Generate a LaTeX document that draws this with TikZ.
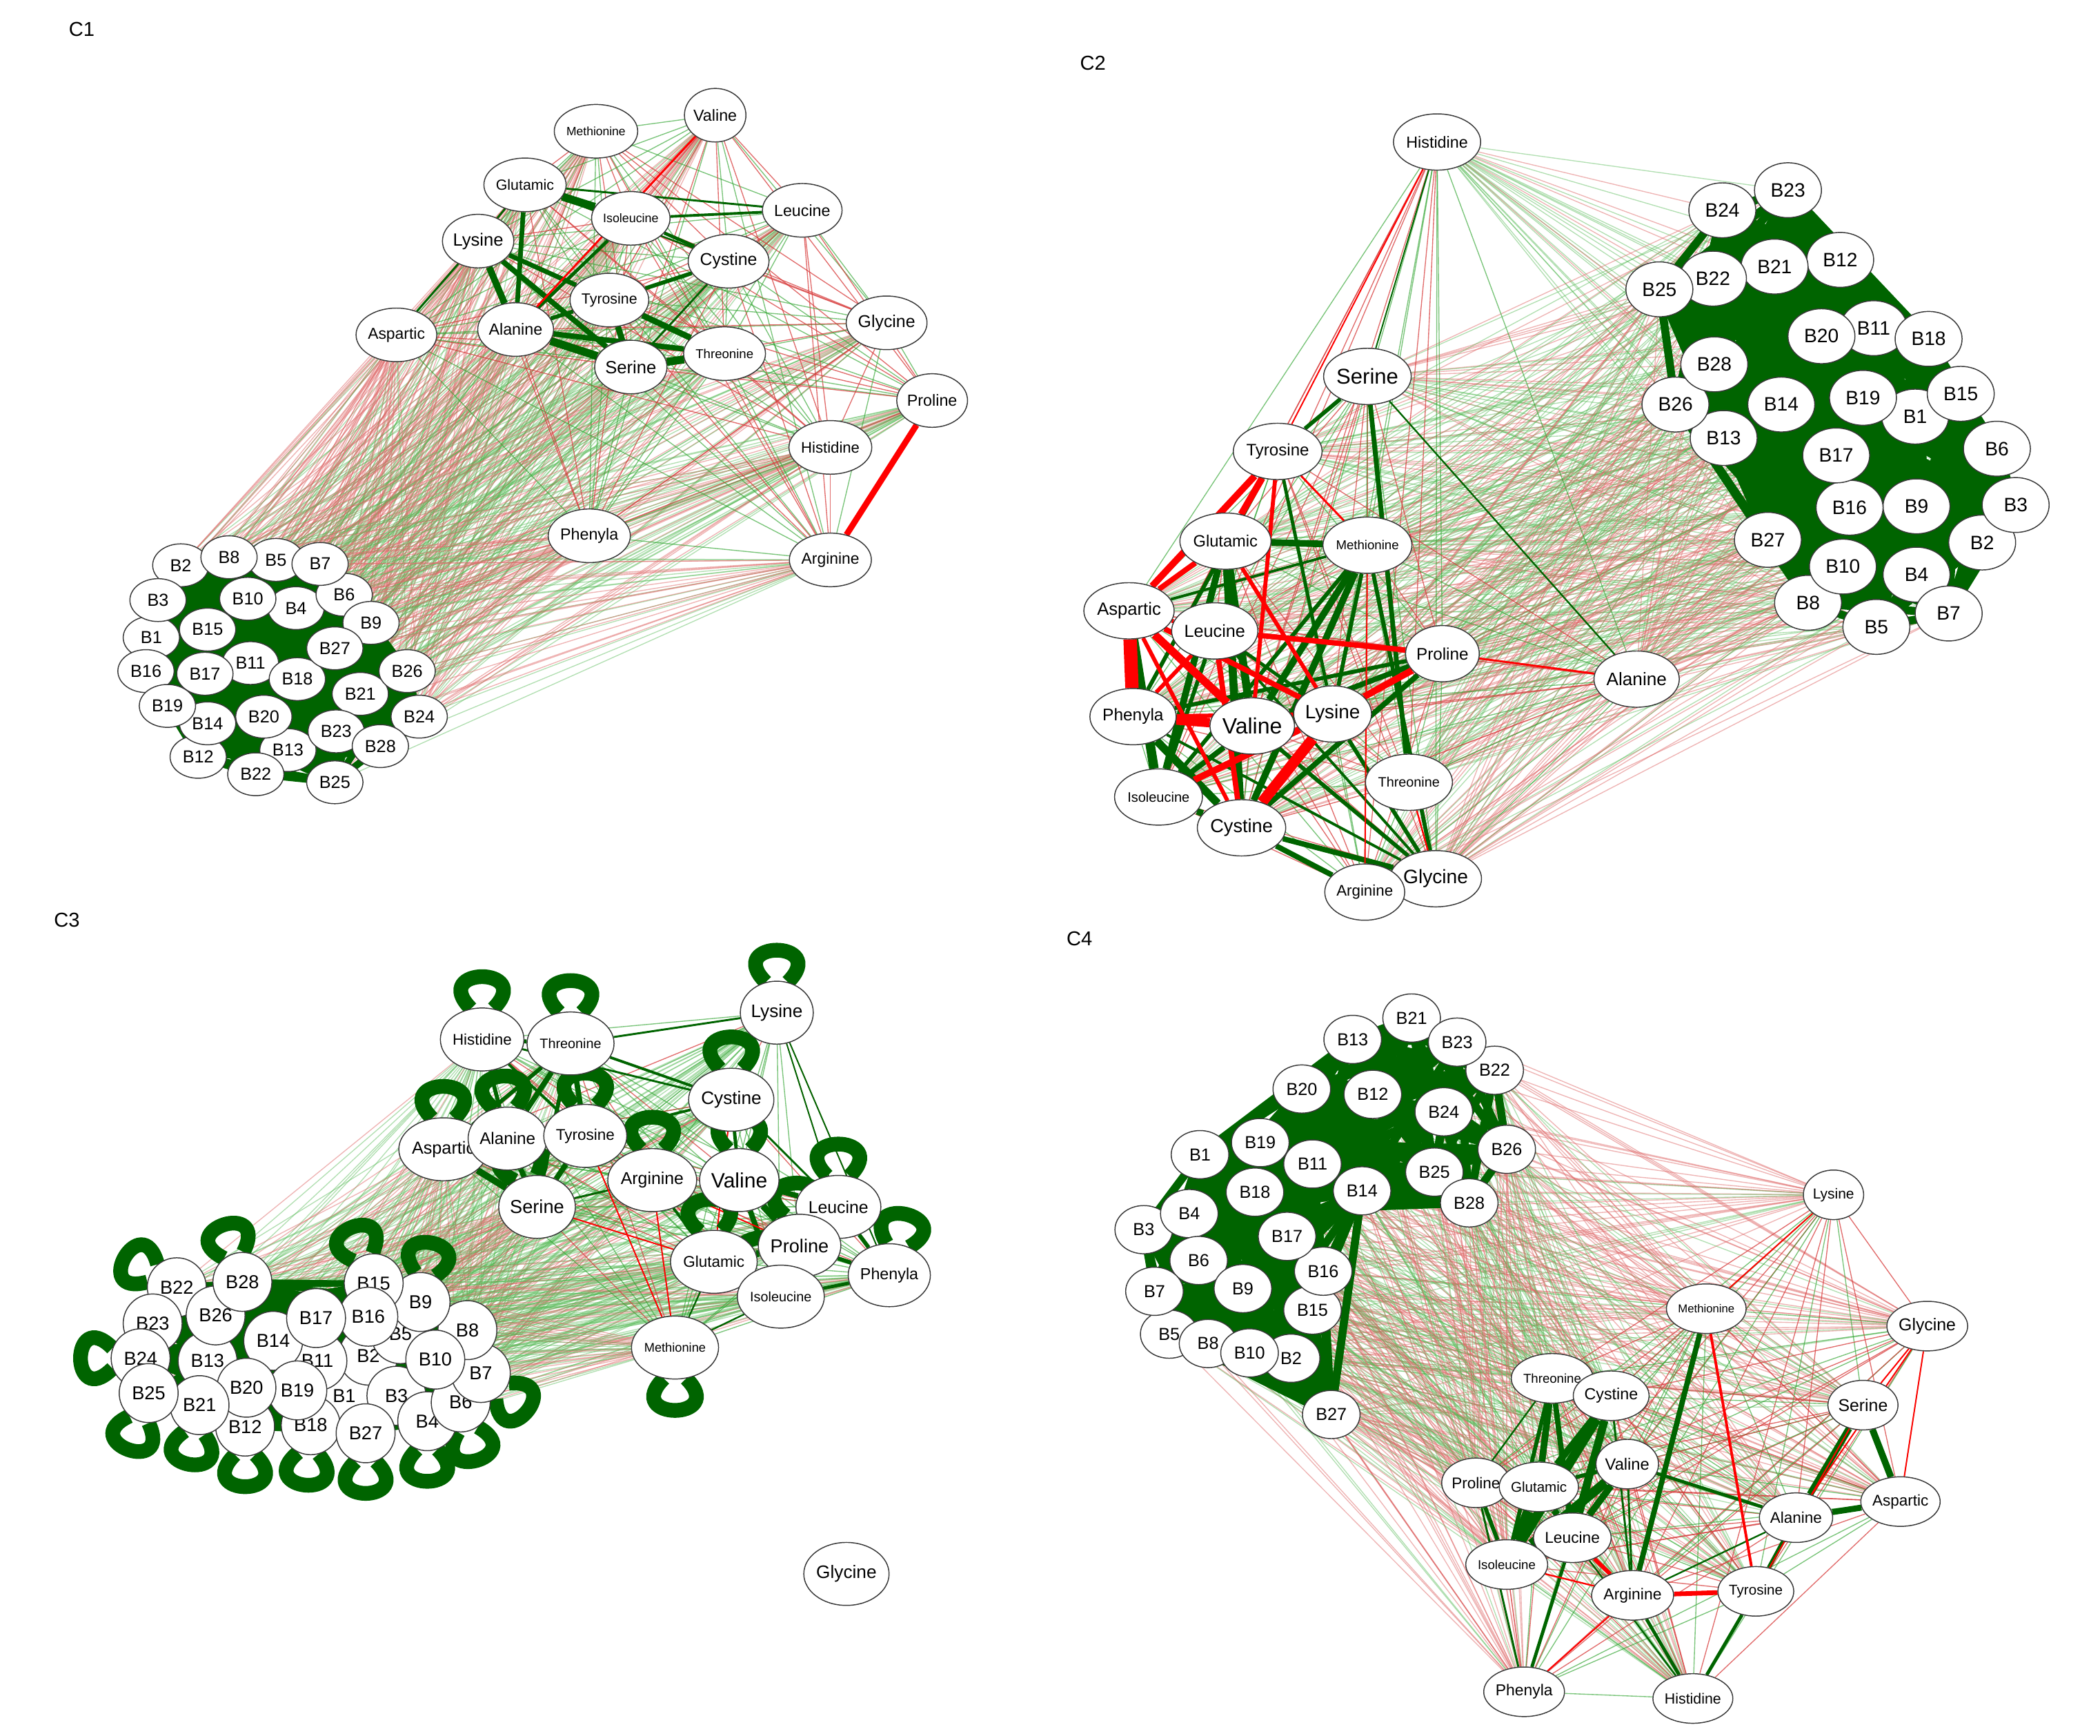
\documentclass[tikz,border=0pt]{standalone}
\usepackage{fontspec}
\setmainfont{Liberation Sans}
\usetikzlibrary{shapes.geometric}
\pgfdeclarelayer{fans}
\pgfdeclarelayer{mid}
\pgfsetlayers{fans,mid,main}
\definecolor{dgreen}{RGB}{0,100,0}
\definecolor{fanred}{RGB}{222,105,105}
\definecolor{fangreen}{RGB}{85,185,85}
\definecolor{brred}{RGB}{255,0,0}
\definecolor{thinred}{RGB}{215,60,60}
\definecolor{thingreen}{RGB}{50,165,50}
\tikzset{
  nd/.style={ellipse, draw=black!78, fill=white, line width=0.75pt, inner sep=0pt},
  bnA/.style={nd, minimum width=42pt, minimum height=32pt, font=\fontsize{13}{13}\selectfont},
  anA/.style={nd, minimum width=44pt, minimum height=40pt},
  bnB/.style={nd, minimum width=50pt, minimum height=41pt, font=\fontsize{14.5}{14.5}\selectfont},
  anB/.style={nd, minimum width=49pt, minimum height=42pt},
  bnC/.style={nd, minimum width=44pt, minimum height=44pt, font=\fontsize{14}{14}\selectfont},
  anC/.style={nd, minimum width=47pt, minimum height=47pt},
  bnD/.style={nd, minimum width=43pt, minimum height=36pt, font=\fontsize{13}{13}\selectfont},
  anD/.style={nd, minimum width=45pt, minimum height=37pt},
  redfan/.style={fanred, line width=0.7pt, opacity=0.5},
  greenfan/.style={fangreen, line width=0.7pt, opacity=0.45},
  redthin/.style={thinred, line width=0.7pt, opacity=0.75},
  greenthin/.style={thingreen, line width=0.7pt, opacity=0.65},
  gk/.style={dgreen, line width=#1},
  rk/.style={brred, line width=#1},
  sloop/.style={dgreen, line width=#1},
  paneltitle/.style={font=\fontsize{15}{15}\selectfont, inner sep=0pt},
}
\newcommand{\fanset}[4]{%
  \foreach \bq in {1,...,28}{%
    \pgfmathtruncatemacro{\hq}{mod(\bq*7+#4*3,10)}%
    \ifnum\hq<#3\relax\draw[redfan] (#1#2) -- (#1B\bq);\else\draw[greenfan] (#1#2) -- (#1B\bq);\fi}}
\newcommand{\meshset}[3]{%
  \foreach \ma [count=\mi] in {#2}{%
    \foreach \mc [count=\mj] in {#2}{%
      \ifnum\mj>\mi\relax
        \pgfmathtruncatemacro{\hq}{mod(\mi*3+\mj*7,10)}%
        \ifnum\hq<#3\relax\draw[redthin] (#1\ma) -- (#1\mc);\else\draw[greenthin] (#1\ma) -- (#1\mc);\fi
      \fi}}}
\newcommand{\cliqueset}[3]{%
  \foreach \ci [count=\ki] in {#3}{%
    \foreach \cj [count=\kj] in {#3}{%
      \ifnum\kj>\ki\relax\draw[gk=#2] (#1B\ci.center) -- (#1B\cj.center);\fi}}}
\newcommand{\selfloop}[3]{%
  \pgfmathtruncatemacro{\la}{#2+20}\pgfmathtruncatemacro{\lb}{#2-20}%
  \pgfmathtruncatemacro{\lc}{#2+45}\pgfmathtruncatemacro{\ld}{#2-45}%
  \draw[sloop=#3] (#1.\la) .. controls +(\lc:45pt) and +(\ld:45pt) .. (#1.\lb);}
\begin{document}
\begin{tikzpicture}[x=1pt,y=-1pt]
\useasboundingbox (0,0) rectangle (1568,1296);
% ---------- titles
\node[paneltitle] (t1) at (61,22) {C1};
\node[paneltitle] (t2) at (816,47) {C2};
\node[paneltitle] (t3) at (50,687) {C3};
\node[paneltitle] (t4) at (806,701) {C4};
% ---------- C1 nodes
\foreach \n/\x/\y in {1/113/476, 2/135/422, 3/118/448, 4/221/454, 5/206/418, 6/257/444, 7/239/421, 8/171/416, 9/277/465, 10/185/447, 11/187/495, 12/148/565, 13/215/560, 14/155/540, 15/155/470, 16/109/501, 17/153/503, 18/222/507, 19/125/527, 20/197/535, 21/269/518, 22/191/578, 23/251/546, 24/313/535, 25/250/584, 26/304/501, 27/250/484, 28/284/557}
  \node[bnA] (c1B\n) at (\x,\y) {B\n};
\foreach \n/\x/\y/\f in {Methionine/445/98/9, Valine/534/86/12, Glutamic/392/138/11, Isoleucine/471/163/9.2, Leucine/599/157/12, Lysine/357/180/13.2, Cystine/544/195/12.8, Tyrosine/455/224/11, Aspartic/296/250/11.8, Alanine/385/246/12, Serine/471/274/13.2, Threonine/541/264/9.6, Glycine/662/241/12.8, Proline/696/299/12, Histidine/620/334/11.4, Phenyla/440/400/12, Arginine/620/418/11.8}
  \node[anA, font=\fontsize{\f}{\f}\selectfont] (c1\n) at (\x,\y) {\n};
% ---------- C2 nodes
\foreach \n/\x/\y in {1/1430/311, 2/1480/405, 3/1505/377, 4/1431/429, 5/1401/468, 6/1491/335, 7/1455/458, 8/1350/450, 9/1431/378, 10/1376/423, 11/1399/245, 12/1374/194, 13/1287/327, 14/1330/302, 15/1464/294, 16/1381/379, 17/1371/340, 18/1440/253, 19/1391/297, 20/1360/251, 21/1325/199, 22/1279/208, 23/1335/142, 24/1286/157, 25/1239/216, 26/1251/302, 27/1320/403, 28/1280/272}
  \node[bnB] (c2B\n) at (\x,\y) {B\n};
\foreach \n/\x/\y/\f in {Histidine/1073/106/12, Serine/1021/281/16, Tyrosine/954/337/12.4, Glutamic/915/404/12.2, Methionine/1021/407/9.6, Aspartic/843/456/13.2, Leucine/907/471/13, Proline/1077/488/12.5, Alanine/1222/507/13.5, Phenyla/846/535/12.6, Valine/935/542/16.5, Lysine/995/533/14.4, Threonine/1052/584/10.2, Isoleucine/865/595/10.3, Cystine/927/618/14, Glycine/1072/656/14.5, Arginine/1019/666/11.5}
  \node[anB, font=\fontsize{\f}{\f}\selectfont] (c2\n) at (\x,\y) {\n};
% ---------- C3 nodes
\foreach \n/\x/\y in {1/257/1042, 2/275/1012, 3/296/1042, 4/319/1061, 5/299/996, 6/344/1047, 7/359/1025, 8/349/993, 9/314/972, 10/325/1015, 11/237/1016, 12/183/1065, 13/155/1016, 14/204/1001, 15/279/958, 16/275/983, 17/236/984, 18/232/1064, 19/222/1038, 20/184/1036, 21/149/1049, 22/132/961, 23/114/988, 24/105/1014, 25/111/1040, 26/161/982, 27/273/1070, 28/181/957}
  \node[bnC] (c3B\n) at (\x,\y) {B\n};
\foreach \n/\x/\y/\f in {Lysine/580/756/13.5, Histidine/360/776/11.5, Threonine/426/779/10.2, Cystine/546/821/13.5, Aspartic/331/858/13, Alanine/379/850/12.5, Tyrosine/437/848/11.6, Arginine/487/881/12.8, Valine/552/881/15.5, Serine/401/901/14, Leucine/626/901/12.8, Proline/597/930/14, Glutamic/533/942/11.6, Phenyla/664/952/12, Isoleucine/583/968/10.2, Methionine/504/1006/9.4, Glycine/632/1175/13.5}
  \node[anC, font=\fontsize{\f}{\f}\selectfont] (c3\n) at (\x,\y) {\n};
% ---------- C4 nodes
\foreach \n/\x/\y in {1/896/862, 2/964/1014, 3/854/918, 4/888/906, 5/873/996, 6/895/941, 7/862/964, 8/902/1003, 9/928/962, 10/933/1010, 11/980/869, 12/1025/817, 13/1010/776, 14/1017/889, 15/980/978, 16/988/949, 17/961/923, 18/937/890, 19/941/853, 20/972/813, 21/1054/760, 22/1116/799, 23/1088/778, 24/1078/830, 25/1071/875, 26/1125/858, 27/994/1056, 28/1097/898}
  \node[bnD] (c4B\n) at (\x,\y) {B\n};
\foreach \n/\x/\y/\f in {Lysine/1369/892/10.8, Methionine/1274/977/8.6, Glycine/1439/990/12.8, Threonine/1159/1029/9.6, Cystine/1203/1042/12, Serine/1391/1049/12.8, Valine/1215/1093/12.2, Proline/1102/1107/11.6, Glutamic/1149/1110/10.6, Alanine/1341/1133/11.6, Aspartic/1419/1121/11.6, Leucine/1174/1148/11.7, Isoleucine/1125/1168/9.6, Arginine/1219/1191/11.8, Tyrosine/1311/1188/10.6, Phenyla/1138/1263/11.8, Histidine/1264/1268/11}
  \node[anD, font=\fontsize{\f}{\f}\selectfont] (c4\n) at (\x,\y) {\n};
% ================= light fans and meshes
\begin{pgfonlayer}{fans}
\foreach \a/\r [count=\s] in {Methionine/7, Valine/7, Glutamic/6, Isoleucine/4, Leucine/3, Lysine/8, Cystine/3, Tyrosine/4, Aspartic/9, Alanine/6, Serine/3, Threonine/3, Glycine/5, Proline/3, Histidine/5, Phenyla/8, Arginine/6}
  {\fanset{c1}{\a}{\r}{\s}}
\foreach \a/\r [count=\s] in {Histidine/2, Serine/5, Tyrosine/4, Glutamic/3, Methionine/3, Aspartic/4, Leucine/5, Proline/3, Alanine/9, Phenyla/5, Valine/4, Lysine/4, Threonine/4, Isoleucine/5, Cystine/5, Glycine/8, Arginine/6}
  {\fanset{c2}{\a}{\r}{\s}}
\foreach \a/\r [count=\s] in {Lysine/0, Histidine/1, Threonine/2, Cystine/2, Alanine/4, Tyrosine/4, Aspartic/7, Arginine/4, Valine/3, Serine/8, Leucine/2, Proline/2, Glutamic/3, Phenyla/2, Isoleucine/2, Methionine/6}
  {\fanset{c3}{\a}{\r}{\s}}
\foreach \a/\r [count=\s] in {Lysine/8, Methionine/8, Glycine/8, Threonine/2, Cystine/2, Serine/6, Valine/2, Proline/8, Glutamic/3, Alanine/5, Aspartic/7, Leucine/4, Isoleucine/8, Arginine/5, Tyrosine/4, Phenyla/8, Histidine/4}
  {\fanset{c4}{\a}{\r}{\s}}
\meshset{c1}{Methionine, Valine, Glutamic, Isoleucine, Leucine, Lysine, Cystine, Tyrosine, Aspartic, Alanine, Serine, Threonine, Glycine, Proline, Histidine, Phenyla, Arginine}{5}
\meshset{c2}{Histidine, Serine, Tyrosine, Glutamic, Methionine, Aspartic, Leucine, Proline, Alanine, Phenyla, Valine, Lysine, Threonine, Isoleucine, Cystine, Glycine, Arginine}{5}
\meshset{c3}{Lysine, Histidine, Threonine, Cystine, Alanine, Tyrosine, Aspartic, Arginine, Valine, Serine, Leucine, Proline, Glutamic, Phenyla, Isoleucine, Methionine}{3}
\meshset{c4}{Lysine, Methionine, Glycine, Threonine, Cystine, Serine, Valine, Proline, Glutamic, Alanine, Aspartic, Leucine, Isoleucine, Arginine, Tyrosine, Phenyla, Histidine}{5}
\end{pgfonlayer}
% ================= strong edges
\begin{pgfonlayer}{mid}
\cliqueset{c1}{5pt}{1,...,28}
\cliqueset{c2}{6pt}{1,...,28}
\cliqueset{c3}{4pt}{1,...,28}
\cliqueset{c4}{6pt}{13,21,23,22,20,12,24,26,25,28,14,11,19,1,18,4}
\cliqueset{c4}{6pt}{1,3,4,6,7,5,8,10,2,9,15,16,17,18,11,14,27,19}
% C1
\foreach \a/\c/\w in {Glutamic/Isoleucine/6pt, Glutamic/Alanine/3.5pt, Lysine/Alanine/5pt, Lysine/Serine/4pt, Lysine/Tyrosine/3.5pt, Alanine/Serine/6pt, Alanine/Threonine/4pt, Alanine/Tyrosine/3pt, Tyrosine/Serine/4.5pt, Tyrosine/Threonine/4.5pt, Serine/Threonine/6pt, Tyrosine/Cystine/3pt, Isoleucine/Cystine/2.5pt, Isoleucine/Alanine/2.5pt, Isoleucine/Leucine/2pt, Glutamic/Leucine/1.5pt, Cystine/Serine/1.5pt, Lysine/Glutamic/1.5pt, Lysine/Aspartic/1.5pt, Glutamic/Cystine/1.2pt}
  \draw[gk=\w] (c1\a) -- (c1\c);
\foreach \a/\c/\w in {Proline/Arginine/4.5pt, Valine/Alanine/1.5pt}
  \draw[rk=\w] (c1\a) -- (c1\c);
% C2
\foreach \a/\c/\w in {Serine/Tyrosine/3pt, Serine/Threonine/3.5pt, Glutamic/Methionine/5pt, Tyrosine/Phenyla/3pt, Tyrosine/Lysine/2.5pt, Glutamic/Valine/6pt, Glutamic/Isoleucine/5pt, Glutamic/Cystine/6pt, Methionine/Valine/5pt, Methionine/Cystine/5pt, Methionine/Isoleucine/3pt, Methionine/Lysine/3pt, Proline/Valine/4pt, Proline/Cystine/4pt, Proline/Phenyla/3pt, Aspartic/Isoleucine/7pt, Phenyla/Cystine/6pt, Isoleucine/Cystine/5pt, Valine/Isoleucine/4pt, Cystine/Arginine/4pt, Cystine/Glycine/4pt, Lysine/Glycine/3pt, Valine/Glycine/3pt, Methionine/Glycine/3pt, Arginine/Glycine/4pt, Leucine/Lysine/2.5pt, Leucine/Glycine/2pt, Phenyla/Glycine/2pt, Aspartic/Methionine/2pt, Leucine/Isoleucine/3pt, Serine/Alanine/1.2pt, Histidine/Serine/1pt}
  \draw[gk=\w] (c2\a) -- (c2\c);
\foreach \a/\c/\w in {Aspartic/Phenyla/10pt, Aspartic/Valine/6pt, Aspartic/Glutamic/4pt, Tyrosine/Aspartic/5pt, Tyrosine/Glutamic/5pt, Tyrosine/Valine/3pt, Phenyla/Valine/7pt, Phenyla/Lysine/3pt, Valine/Lysine/7pt, Lysine/Cystine/8pt, Isoleucine/Lysine/5pt, Lysine/Proline/5pt, Leucine/Proline/4pt, Leucine/Cystine/4pt, Glutamic/Lysine/3pt, Aspartic/Leucine/3pt, Proline/Alanine/1.5pt, Tyrosine/Methionine/1.5pt, Histidine/Tyrosine/1pt, Threonine/Glycine/1.2pt, Methionine/Arginine/1pt, Aspartic/Cystine/3pt, Phenyla/Leucine/3pt, Aspartic/Lysine/4pt}
  \draw[rk=\w] (c2\a) -- (c2\c);
% C3
\foreach \a/\c/\w in {Histidine/Threonine/3pt, Histidine/Alanine/3pt, Histidine/Tyrosine/2pt, Threonine/Alanine/4pt, Threonine/Tyrosine/4pt, Threonine/Serine/3pt, Threonine/Aspartic/3pt, Alanine/Serine/4pt, Tyrosine/Serine/4pt, Aspartic/Serine/5pt, Aspartic/Alanine/3pt, Alanine/Tyrosine/3pt, Threonine/Cystine/2pt, Histidine/Cystine/1.5pt, Threonine/Lysine/1.5pt, Cystine/Tyrosine/2pt, Valine/Glutamic/5pt, Valine/Proline/5pt, Valine/Leucine/4pt, Valine/Isoleucine/4pt, Proline/Glutamic/5pt, Proline/Leucine/5pt, Proline/Isoleucine/5pt, Proline/Phenyla/3pt, Leucine/Phenyla/3pt, Isoleucine/Phenyla/2.5pt, Glutamic/Isoleucine/4pt, Cystine/Valine/2.5pt, Cystine/Leucine/1.5pt, Arginine/Glutamic/2pt, Lysine/Phenyla/1pt, Lysine/Leucine/1pt, Serine/Arginine/1.5pt, Glutamic/Methionine/1.2pt, Isoleucine/Methionine/1.2pt}
  \draw[gk=\w] (c3\a) -- (c3\c);
\foreach \a/\c/\w in {Arginine/Proline/1pt, Arginine/Methionine/1pt, Serine/Glutamic/1pt, Tyrosine/Methionine/1pt, Cystine/Glutamic/1pt}
  \draw[rk=\w] (c3\a) -- (c3\c);
% C4
\foreach \a/\c/\w in {Threonine/Glutamic/5pt, Threonine/Leucine/4pt, Threonine/Isoleucine/3pt, Cystine/Glutamic/5pt, Cystine/Leucine/6pt, Cystine/Isoleucine/7pt, Valine/Isoleucine/7pt, Valine/Leucine/5pt, Valine/Glutamic/3pt, Glutamic/Isoleucine/8pt, Glutamic/Leucine/5pt, Leucine/Isoleucine/5pt, Proline/Isoleucine/3pt, Proline/Phenyla/1.5pt, Methionine/Arginine/4pt, Valine/Alanine/2.5pt, Serine/Alanine/5pt, Serine/Aspartic/5pt, Alanine/Aspartic/4.5pt, Alanine/Tyrosine/3pt, Tyrosine/Histidine/2.5pt, Arginine/Histidine/2.5pt, Leucine/Phenyla/2.5pt, Valine/Arginine/1.5pt, Threonine/Proline/1.2pt, Cystine/Arginine/1.5pt, Alanine/Arginine/1.2pt, Leucine/Histidine/1.2pt}
  \draw[gk=\w] (c4\a) -- (c4\c);
\foreach \a/\c/\w in {Methionine/Tyrosine/2pt, Arginine/Tyrosine/3.5pt, Leucine/Arginine/3pt, Proline/Glutamic/2.5pt, Isoleucine/Arginine/1.2pt, Glycine/Serine/1pt, Glycine/Aspartic/1pt, Glycine/Alanine/1pt, Serine/Tyrosine/1pt, Phenyla/Arginine/1pt, Lysine/Methionine/1pt}
  \draw[rk=\w] (c4\a) -- (c4\c);
% C3 self loops
\foreach \a/\d in {Histidine/90, Threonine/90, Lysine/90, Cystine/90, Aspartic/90, Alanine/95, Tyrosine/90, Arginine/90, Valine/90, Leucine/90, Phenyla/75, Proline/95, Glutamic/95, Isoleucine/120, Methionine/270, Serine/110}
  {\selfloop{c3\a}{\d}{11pt}}
\foreach \b/\d in {22/150, 28/108, 15/112, 9/80, 24/180, 25/250, 21/260, 12/270, 18/265, 27/270, 4/270, 6/285, 7/320}
  {\selfloop{c3B\b}{\d}{11pt}}
\end{pgfonlayer}
\end{tikzpicture}
\end{document}
